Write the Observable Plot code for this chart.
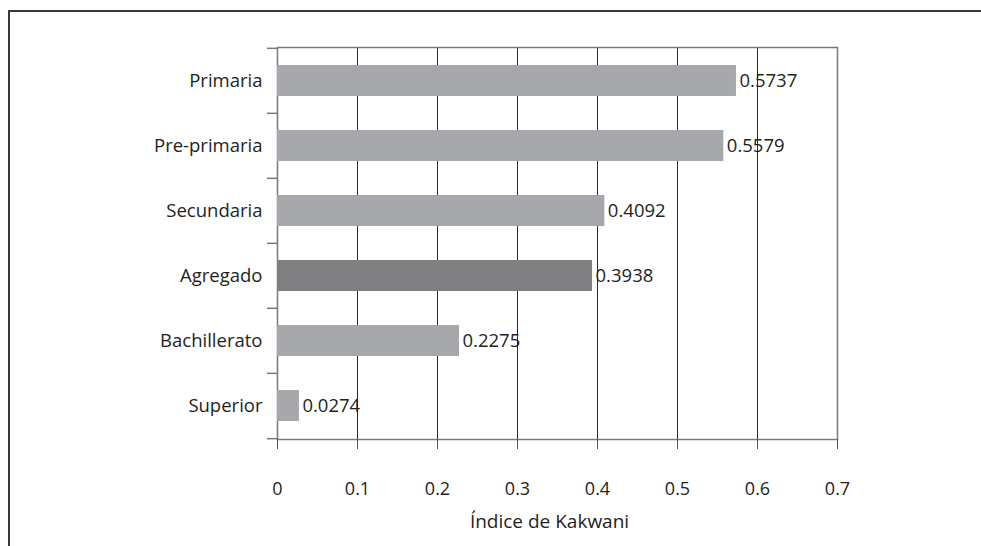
<!DOCTYPE html>
<html>
<head>
<meta charset="utf-8">
<script src="https://cdn.jsdelivr.net/npm/d3@7"></script>
<script src="https://cdn.jsdelivr.net/npm/@observablehq/plot@0.6"></script>
<style>
  html, body { margin: 0; padding: 0; background: #fff; }
  #wrap { position: relative; width: 981px; height: 546px; overflow: hidden; }
  #border { position: absolute; left: 8px; top: 10px; width: 1000px; height: 600px;
            border-top: 2px solid #3a3a3a; border-left: 2px solid #3a3a3a; box-sizing: border-box; }
  #chart { position: absolute; left: 0; top: 0; }
</style>
</head>
<body>
<div id="wrap"><div id="border"></div><div id="chart"></div></div>
<script>
const categories = ["Primaria", "Pre-primaria", "Secundaria", "Agregado", "Bachillerato", "Superior"];
const values = [0.5737, 0.5579, 0.4092, 0.3938, 0.2275, 0.0274];
const highlight = "Agregado";
const xTicks = [0, 0.1, 0.2, 0.3, 0.4, 0.5, 0.6, 0.7];
const xLabel = "Índice de Kakwani";

const data = categories.map((c, i) => ({category: c, value: values[i]}));

const W = 981, H = 546;
const mL = 277, mR = 144, mT = 47, mB = 107;
const step = (H - mT - mB) / categories.length;
const ink = "#231f20";

const chart = Plot.plot({
  width: W, height: H,
  marginLeft: mL, marginRight: mR, marginTop: mT, marginBottom: mB,
  style: {fontFamily: "'Open Sans', sans-serif", fontSize: "18px", color: ink, background: "transparent", overflow: "visible"},
  x: {domain: [0, 0.7]},
  y: {domain: categories, paddingInner: 0.53, paddingOuter: 0.265},
  marks: [
    Plot.gridX({ticks: xTicks.slice(1, -1), stroke: "#2a2a2a", strokeOpacity: 1, strokeWidth: 1}),
    Plot.frame({stroke: "#7a7a7a", strokeWidth: 1.5}),
    Plot.barX(data, {x: "value", y: "category", fill: d => d.category === highlight ? "#808083" : "#a7a8ab"}),
    Plot.axisY({tickSize: 0, tickPadding: 15, label: null, fill: ink, fontSize: 18.5}),
    Plot.axisY({text: null, tickSize: 10, dy: -step / 2, stroke: "#7a7a7a", strokeWidth: 1.5, label: null}),
    Plot.axisY({ticks: [categories[categories.length - 1]], text: null, tickSize: 10, dy: step / 2, stroke: "#7a7a7a", strokeWidth: 1.5, label: null}),
    Plot.axisX({ticks: xTicks, tickSize: 10, tickPadding: 33, stroke: "#555", strokeWidth: 1, fill: ink,
                tickFormat: d => String(d), label: null}),
    Plot.text([xLabel], {frameAnchor: "bottom", text: d => d, dy: 88, dx: -8, fill: ink, fontSize: 19}),
    Plot.text(data, {x: "value", y: "category", text: d => d.value.toFixed(4), textAnchor: "start", dx: 3, fill: ink, fontSize: 18.5})
  ]
});
document.getElementById("chart").appendChild(chart);
</script>
</body>
</html>
